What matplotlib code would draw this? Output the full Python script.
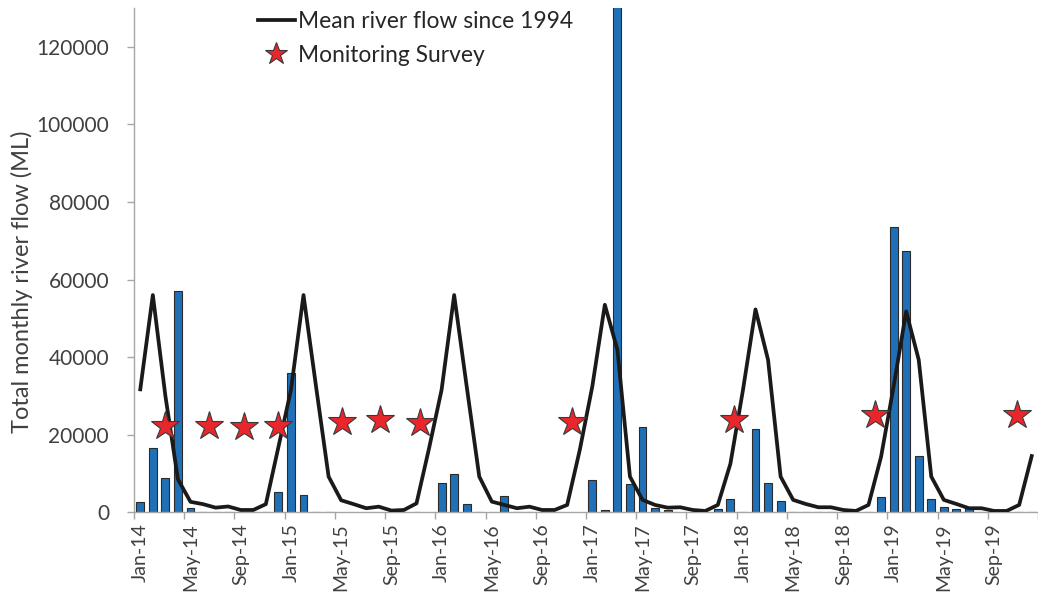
import numpy as np
import matplotlib
matplotlib.use("Agg")
import matplotlib.pyplot as plt
from matplotlib.lines import Line2D

plt.rcParams["font.family"] = ["Lato", "DejaVu Sans"]

nan = np.nan

# Total monthly river flow (ML); NaN marks months with no record
flow_2014 = [2700, 16700, 8900, 57000, 1200, 0, 0, 0, 0, 0, 0, 5200]
flow_2015 = [36000, 4500, 0, 0, nan, nan, nan, nan, nan, nan, 0, nan]
flow_2016 = [7600, 9800, 2100, 0, nan, 4200, 0, 0, nan, nan, nan, nan]
flow_2017 = [8300, 600, 148000, 7400, 21900, 1100, 600, nan, nan, nan, 800, 3400]
flow_2018 = [0, 21600, 7650, 3000, 0, 0, 0, 0, 0, 0, 0, 3950]
flow_2019 = [73600, 67400, 14500, 3350, 1450, 850, 1030, 0, 0, 0, 0, 0]

# Long-term mean monthly flow (since 1994)
mean_2014 = [31700, 56000, 30000, 8500, 2700, 2100, 1200, 1500, 600, 600, 2100, 16800]
mean_2015 = [31500, 56000, 32400, 9200, 3100, 2100, 1050, 1450, 450, 600, 2300, 16500]
mean_2016 = [31600, 56000, 32400, 9200, 2750, 1900, 1050, 1450, 600, 600, 1900, 16000]
mean_2017 = [32400, 53500, 41900, 9200, 3200, 1900, 1200, 1300, 600, 350, 1900, 12500]
mean_2018 = [31500, 52300, 39300, 9200, 3200, 2150, 1300, 1300, 600, 350, 1900, 14300]
mean_2019 = [32400, 51800, 39300, 9200, 3200, 2150, 1050, 1050, 350, 350, 1900, 14500]

# Monitoring surveys: position in months after Jan-14, and plotted height
survey_month = [1.95, 5.45, 8.3, 10.95, 16.05, 19.08, 22.3, 34.36, 47.27, 58.55, 69.8]
survey_level = [22300, 22200, 22100, 22200, 23400, 23700, 23000, 23400, 23700, 25000, 25100]

tick_labels = ["Jan-14", "May-14", "Sep-14", "Jan-15", "May-15", "Sep-15",
               "Jan-16", "May-16", "Sep-16", "Jan-17", "May-17", "Sep-17",
               "Jan-18", "May-18", "Sep-18", "Jan-19", "May-19", "Sep-19"]

flow = np.concatenate([flow_2014, flow_2015, flow_2016, flow_2017, flow_2018, flow_2019])
mean_flow = np.concatenate([mean_2014, mean_2015, mean_2016, mean_2017, mean_2018, mean_2019])
months = np.arange(len(flow))

TEXT = "#404040"
AXIS = "#a6a6a6"
BLUE = "#2070b8"
LINE = "#1a1a1a"
RED = "#e8262b"
FS = 15
FS_X = 14
FS_LEG = 16.4
FS_TITLE = 17

W, H = 1038, 597
fig = plt.figure(figsize=(W / 100, H / 100), dpi=100)
ax = fig.add_axes([134 / W, (H - 512.3) / H, 904 / W, 504.3 / H])

ax.bar(months, flow, width=0.63, color=BLUE, edgecolor="#2b2b2b", linewidth=0.8, zorder=2)
ax.plot(months, mean_flow, color=LINE, lw=2.7, zorder=3, solid_joinstyle="round")
ax.plot(survey_month, survey_level, ls="none", marker="*", ms=21, mfc=RED,
        mec="#3a3a3a", mew=0.8, zorder=4)

ax.set_xlim(-0.5, 70.96)
ax.set_ylim(0, 130000)

for side in ("top", "right"):
    ax.spines[side].set_visible(False)
for side in ("left", "bottom"):
    ax.spines[side].set_color(AXIS)
    ax.spines[side].set_linewidth(1.0)

ax.set_yticks(np.arange(0, 120001, 20000))
ax.tick_params(axis="y", direction="out", length=5, width=1, color=AXIS,
               pad=13, labelsize=FS, labelcolor=TEXT)

# tick marks between categories every four months, labels centred on the month
ax.set_xticks(np.arange(-0.5, 72, 4))
ax.set_xticklabels([])
ax.tick_params(axis="x", which="major", direction="out", length=5, width=1, color=AXIS)
ax.set_xticks(np.arange(0, 72, 4), minor=True)
ax.set_xticklabels(tick_labels, minor=True, rotation=90)
ax.tick_params(axis="x", which="minor", length=0, pad=8, labelsize=FS_X, labelcolor=TEXT)

ax.set_ylabel("Total monthly river flow (ML)", fontsize=FS_TITLE, color=TEXT, va="center")
ax.yaxis.set_label_coords(-0.124, 0.457)

handles = [
    Line2D([], [], color=LINE, lw=2.7),
    Line2D([], [], ls="none", marker="*", ms=21, mfc=RED, mec="#3a3a3a", mew=0.8),
]
ax.legend(handles, ["Mean river flow since 1994", "Monitoring Survey"],
          loc="upper left", bbox_to_anchor=(258 / W, 1 - 11 / H),
          bbox_transform=fig.transFigure, frameon=False, fontsize=FS_LEG,
          handlelength=1.62, handletextpad=0.13, borderpad=0, borderaxespad=0,
          labelspacing=0.59, markerscale=0.8, numpoints=1, labelcolor="#262626")

fig.savefig("out.png", dpi=100)
